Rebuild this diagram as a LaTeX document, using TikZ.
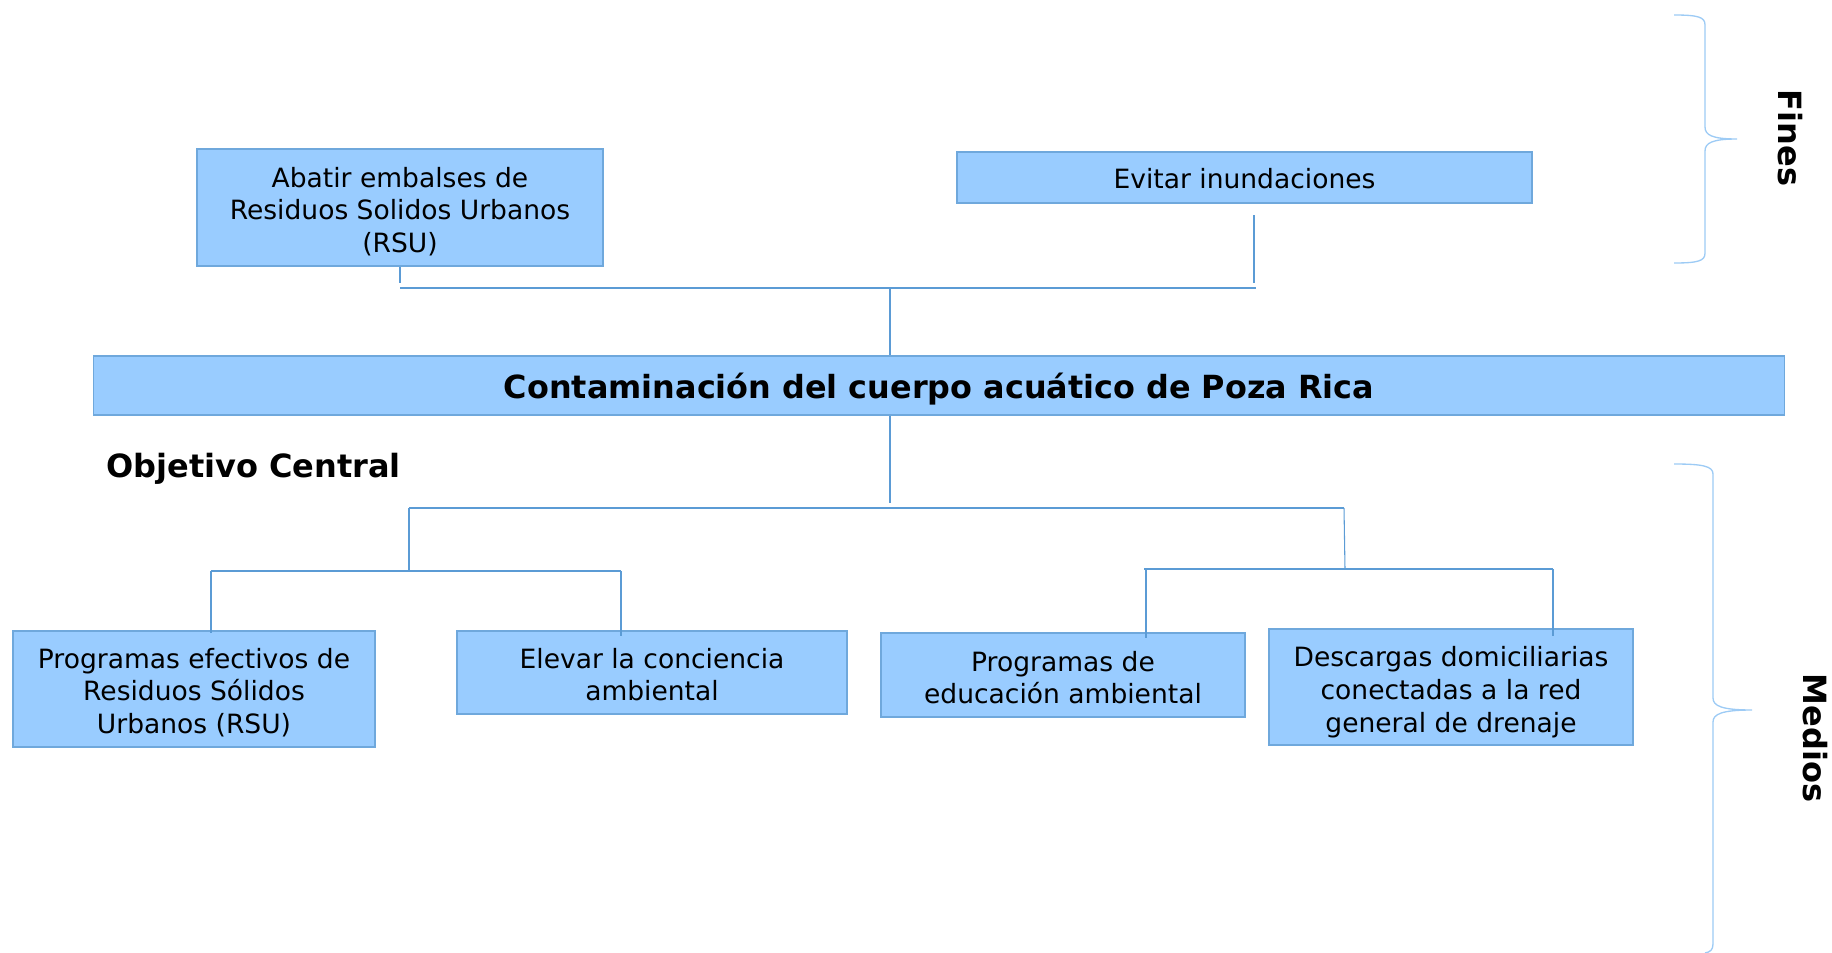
\documentclass[tikz,border=0pt]{standalone}
\usepackage{fontspec}
\setmainfont{DejaVu Sans}
\usetikzlibrary{calc}
\definecolor{boxfill}{HTML}{99CCFF}
\definecolor{boxdraw}{HTML}{6FA8DC}
\definecolor{linecol}{HTML}{5B9BD5}
\definecolor{bracecol}{HTML}{9DCBF5}
\newcommand{\lowertext}[2]{\raisebox{-#1}[\height][\depth]{\begin{tabular}{@{}c@{}}#2\end{tabular}}}
\begin{document}
\begin{tikzpicture}[x=0.75pt,y=-0.75pt,
  box/.style={draw=boxdraw,fill=boxfill,line width=0.9pt,align=center,inner sep=0pt,
    font=\fontsize{19.9}{24.5}\selectfont},
  conn/.style={draw=linecol,line width=0.8pt},
  brace/.style={draw=bracecol,line width=1pt},
  bold/.style={font=\fontsize{24}{28}\selectfont\bfseries}]
\useasboundingbox (0,0) rectangle (1832,953);
% boxes
\node[box,minimum width=406*0.75pt,minimum height=117*0.75pt] (abatir) at (400,207.5)
  {\lowertext{4.3pt}{Abatir embalses de\\Residuos Solidos Urbanos\\(RSU)}};
\node[box,minimum width=575*0.75pt,minimum height=51*0.75pt] (evitar) at (1244.5,177.5)
  {\lowertext{3.5pt}{Evitar inundaciones}};
\node[box,minimum width=1691*0.75pt,minimum height=59*0.75pt,font=\fontsize{23.9}{28}\selectfont\bfseries] (main) at (939,385.5)
  {\lowertext{4.3pt}{Contaminación del cuerpo acuático de Poza Rica}};
\node[bold,anchor=west,inner sep=0pt] (obj) at (106,468.5) {Objetivo Central};
\node[box,minimum width=362*0.75pt,minimum height=116*0.75pt] (prog1) at (194,689)
  {\lowertext{4pt}{Programas efectivos de\\Residuos Sólidos\\Urbanos (RSU)}};
\node[box,minimum width=390*0.75pt,minimum height=83*0.75pt] (elevar) at (652,672.5)
  {\lowertext{4pt}{Elevar la conciencia\\ambiental}};
\node[box,minimum width=364*0.75pt,minimum height=84*0.75pt] (proged) at (1063,675)
  {\lowertext{4.4pt}{Programas de\\educación ambiental}};
\node[box,minimum width=364*0.75pt,minimum height=116*0.75pt] (desc) at (1451,687)
  {\lowertext{4.5pt}{Descargas domiciliarias\\conectadas a la red\\general de drenaje}};
% junction coordinates
\coordinate (jtop) at (890,288);
\coordinate (jtopL) at (400,288);
\coordinate (jtopR) at (1256,288);
\coordinate (evA) at (1254,215);
\coordinate (evB) at (1254,283);
\coordinate (abB) at (400,283);
\coordinate (jmid) at (890,503);
\coordinate (jmL) at (409,508);
\coordinate (jmR) at (1344,508);
\coordinate (jL) at (409,571);
\coordinate (jLL) at (211,571);
\coordinate (jLR) at (621,571);
\coordinate (jR) at (1345,569);
\coordinate (jRL) at (1144,569);
\coordinate (jRLb) at (1146,569);
\coordinate (jRR) at (1553,569);
% upper connectors
\draw[conn] (abatir.south -| abB) -- (abB);
\draw[conn] (jtopL) -- (jtopR);
\draw[conn] (evA) -- (evB);
\draw[conn] (jtop) -- (main.north -| jtop);
% lower connectors
\draw[conn] (main.south -| jmid) -- (jmid);
\draw[conn] (jmL) -- (jmR);
\draw[conn] (jmL) -- (jL);
\draw[conn] (jmR) -- (jR);
\draw[conn] (jLL) -- (jLR);
\draw[conn] (jLL) -- ($(prog1.north -| jLL)+(0,3)$);
\draw[conn] (jLR) -- ($(elevar.north -| jLR)+(0,6)$);
\draw[conn] (jRL) -- (jRR);
\draw[conn] (jRLb) -- ($(proged.north -| jRLb)+(0,6)$);
\draw[conn] (jRR) -- ($(desc.north -| jRR)+(0,8)$);
% braces
\draw[brace] (1674,15) .. controls (1698,15) and (1705,17) .. (1705,25)
  -- (1705,127) .. controls (1705,135) and (1712,139) .. (1737,139)
  .. controls (1712,139) and (1705,143) .. (1705,151)
  -- (1705,253) .. controls (1705,261) and (1698,263) .. (1674,263);
\draw[brace] (1674,464) .. controls (1702,464) and (1713,466) .. (1713,474)
  -- (1713,698) .. controls (1713,706) and (1722,710) .. (1752,710)
  .. controls (1722,710) and (1713,714) .. (1713,722)
  -- (1713,944) .. controls (1713,950) and (1710,952) .. (1705,953);
\node[bold,rotate=-90,inner sep=0pt] (fines) at (1790,138) {Fines};
\node[bold,rotate=-90,inner sep=0pt] (medios) at (1815,738) {Medios};
\end{tikzpicture}
\end{document}
